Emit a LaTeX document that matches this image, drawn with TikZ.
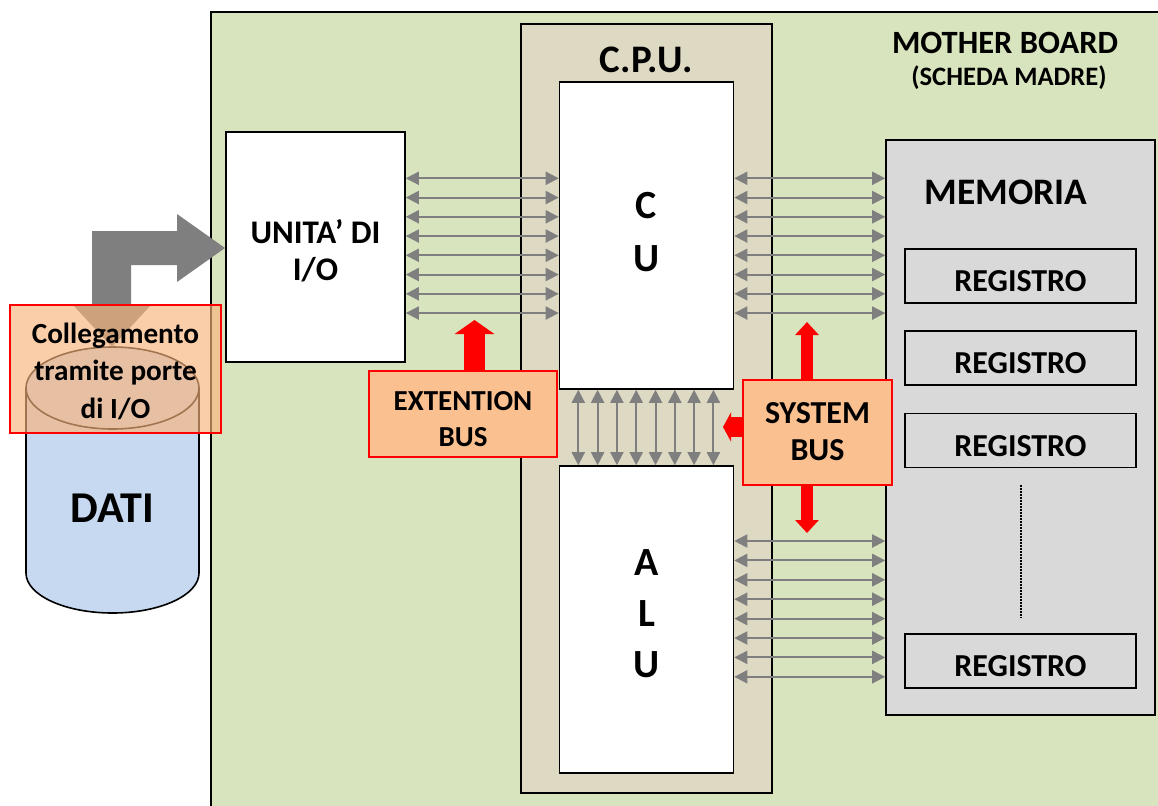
\documentclass[tikz,border=0pt]{standalone}
\usepackage{fontspec}
\setmainfont{Carlito}
\usetikzlibrary{arrows.meta}
\definecolor{board}{HTML}{D7E4BD}
\definecolor{cpuc}{HTML}{DDD9C3}
\definecolor{memc}{HTML}{D9D9D9}
\definecolor{boxo}{HTML}{FAC090}
\definecolor{ovl}{HTML}{F9B47C}
\definecolor{datic}{HTML}{C6D9F1}
\definecolor{busg}{HTML}{7F7F7F}
\begin{document}
\begin{tikzpicture}[x=1pt,y=-1pt,
  wbox/.style={draw=black, line width=1.6pt, fill=white, inner sep=0pt},
  regbox/.style={draw=black, line width=1.6pt, fill=memc, inner sep=0pt, minimum width=231pt, minimum height=54pt,
     text height=31pt, text depth=0pt, font=\fontsize{32}{36}\selectfont\bfseries},
  busbox/.style={draw=red, line width=1.6pt, fill=boxo, inner sep=0pt},
  bus/.style={draw=busg, line width=2pt, arrows={Triangle[length=13pt,width=13pt]-Triangle[length=13pt,width=13pt]}},
  redbig/.style={draw=red, line width=21pt, arrows={-Triangle[length=14pt,width=39pt]}},
  redsmall/.style={draw=red, line width=12pt, arrows={-Triangle[length=13pt,width=23pt]}},
  redleft/.style={draw=red, line width=20pt, arrows={-Triangle[length=8pt,width=29pt]}},
  lbl/.style={inner sep=0pt, align=center, font=\bfseries}]
\useasboundingbox (0,0) rectangle (1158,805);
\clip (0,0) rectangle (1158,805);
% mother board
\draw[line width=2.6pt, fill=board] (211,12) rectangle (1200,850);
\node[lbl, font=\fontsize{32.5}{36}\selectfont\bfseries] (mblbl) at (1005,43) {MOTHER BOARD};
\node[lbl, font=\fontsize{26.6}{30}\selectfont\bfseries] (schlbl) at (1009,78) {(SCHEDA MADRE)};
% CPU
\node[draw=black, line width=2pt, fill=cpuc, minimum width=251pt, minimum height=769pt, inner sep=0pt] (cpu) at (646.5,408.5) {};
\node[lbl, font=\fontsize{39}{42}\selectfont\bfseries] (cpulbl) at (646.5,60) {C.P.U.};
\node[wbox, minimum width=174pt, minimum height=307pt] (cu) at (646.5,235.5) {};
\node[lbl, font=\fontsize{40}{53}\selectfont\bfseries] (culbl) at (646.5,232) {C\\U};
\node[wbox, minimum width=174pt, minimum height=307pt] (alu) at (646.5,619.5) {};
\node[lbl, font=\fontsize{40}{51}\selectfont\bfseries] (alulbl) at (646.5,614) {A\\L\\U};
% I/O
\node[wbox, minimum width=179pt, minimum height=230pt] (io) at (315.5,247) {};
\node[lbl, font=\fontsize{33}{37}\selectfont\bfseries] (iolbl) at (315.5,251) {UNITA’ DI\\I/O};
% memory
\node[draw=black, line width=1.6pt, fill=memc, minimum width=269pt, minimum height=575pt, inner sep=0pt] (mem) at (1020.5,427.5) {};
\node[lbl, font=\fontsize{37.4}{40}\selectfont\bfseries] (memlbl) at (1006,192) {MEMORIA};
\node[regbox] (r1) at (1020.5,276) {REGISTRO};
\node[regbox] (r2) at (1020.5,358) {REGISTRO};
\node[regbox] (r3) at (1020.5,440.5) {REGISTRO};
\node[regbox] (r4) at (1020.5,661) {REGISTRO};
\draw[line width=2pt, dash pattern=on 1.6pt off 1.4pt, black] (r3.south |- 0,485) -- (r4.north |- 0,618);
% buses
\foreach \i in {0,...,7} {
  \pgfmathsetmacro\yy{178.3+19.25*\i}
  \draw[bus] (io.east |- 0,\yy) -- (cu.west |- 0,\yy);
  \draw[bus] (cu.east |- 0,\yy) -- (mem.west |- 0,\yy);
  \pgfmathsetmacro\yb{541+19.4*\i}
  \draw[bus] (alu.east |- 0,\yb) -- (mem.west |- 0,\yb);
  \pgfmathsetmacro\xx{578.3+19.3*\i}
  \draw[bus] (cu.south -| \xx,0) -- (alu.north -| \xx,0);
}
% extension bus
\node[busbox, minimum width=188pt, minimum height=86pt] (ext) at (463,414) {};
\node[lbl, font=\fontsize{29}{36.5}\selectfont\bfseries] (extlbl) at (463,419) {EXTENTION\\BUS};
\coordinate (extTip) at (474.5,320);
\draw[redbig] (ext.north -| extTip) -- (extTip);
% system bus
\node[busbox, minimum width=149pt, minimum height=105pt] (sys) at (817.5,432.5) {};
\node[lbl, font=\fontsize{32}{37}\selectfont\bfseries] (syslbl) at (817.5,432) {SYSTEM\\BUS};
\coordinate (sysUp) at (807,322);
\coordinate (sysDn) at (807,533);
\coordinate (sysL) at (723,427);
\draw[redsmall] (sys.north -| sysUp) -- (sysUp);
\draw[redsmall] (sys.south -| sysDn) -- (sysDn);
\draw[redleft] (sys.west |- sysL) -- (sysL);
% cylinder DATI
\path[fill=datic, draw=black, line width=1.6pt] (26,388) -- (26,573) arc[start angle=180, end angle=0, x radius=86.5, y radius=40] -- (199,388);
\draw[fill=datic, line width=1.6pt] (112.5,388) ellipse[x radius=86.5, y radius=41];
\node[lbl, font=\fontsize{44}{48}\selectfont\bfseries] (dati) at (112.5,508) {DATI};
% grey bent arrow
\fill[busg] (92,305) -- (92,231) -- (177,231) -- (177,214) -- (225,248) -- (177,282) -- (177,265)
  -- (131,265) -- (131,305) -- (151,305) -- (112,347) -- (73,305) -- cycle;
% overlay box
\node[draw=red, line width=2pt, fill=ovl, fill opacity=0.65, minimum width=211pt, minimum height=128pt, inner sep=0pt] (link) at (115.5,369) {};
\node[lbl, font=\fontsize{29.2}{37.5}\selectfont\bfseries] (linklbl) at (115.5,371) {Collegamento\\tramite porte\\di I/O};
\end{tikzpicture}
\end{document}
